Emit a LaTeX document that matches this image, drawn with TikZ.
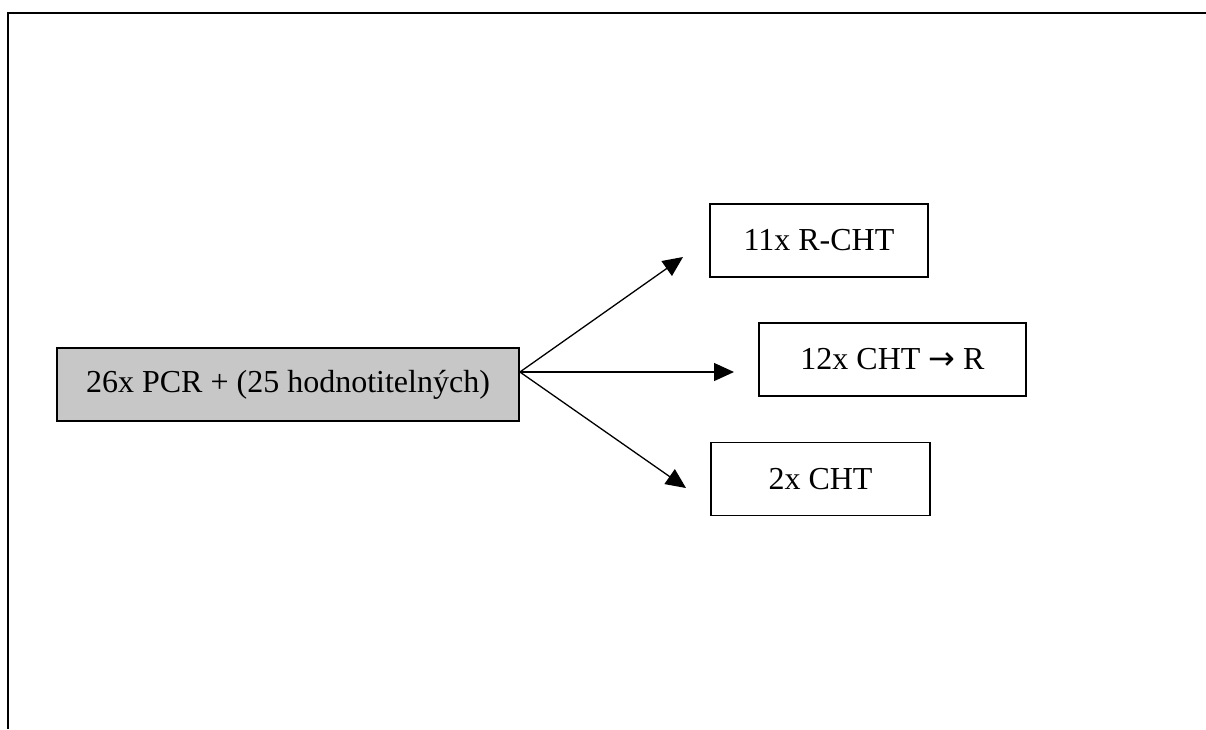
\documentclass[tikz,border=0pt]{standalone}
\usepackage{fontspec}
\setmainfont{Liberation Serif}
\newfontfamily\symfont{DejaVu Sans}
\usetikzlibrary{arrows.meta}
\definecolor{shade}{gray}{0.78}
\tikzset{
  bx/.style={draw, line width=1.4pt, inner sep=0pt, minimum height=73pt,
             align=center, font=\fontsize{32}{38}\selectfont},
  fl/.style={-{Triangle[length=20pt, width=18pt]}, line width=1.3pt},
}

\begin{document}
\begin{tikzpicture}[x=1pt, y=-1pt]
    \useasboundingbox (0,0) rectangle (1206,729);
    \draw[line width=2pt] (1206,13) -- (8,13) -- (8,729);
    \node[bx, fill=shade, line width=1.8pt, minimum width=462pt] (pcr) at (288,384.5) {26x PCR + (25 hodnotitelných)};
    \node[bx, minimum width=218pt] (rcht) at (819,240.5) {11x R-CHT};
    \node[bx, minimum width=267pt] (chtr) at (892.5,359.5) {12x CHT {\symfont →} R};
    \node[bx, minimum width=219pt] (cht) at (820.5,479) {2x CHT};
    % arrows stop short of the boxes
    \coordinate (src) at ([yshift=12.5pt]pcr.east);
    \coordinate (e1) at (683,257);
    \coordinate (e2) at (734,372);
    \coordinate (e3) at (686,488);
    \draw[fl] (src) -- (e1);
    \draw[fl] (src) -- (e2);
    \draw[fl] (src) -- (e3);
  \end{tikzpicture}
\end{document}
